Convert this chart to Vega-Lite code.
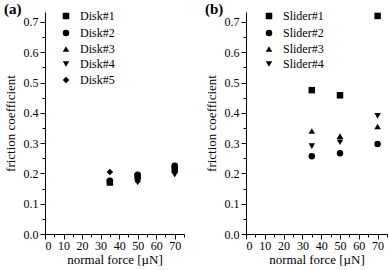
{
  "$schema": "https://vega.github.io/schema/vega-lite/v6.json",
  "padding": {"left": 4, "top": 2, "right": 0, "bottom": 0},
  "background": "white",
  "config": {
    "font": "Liberation Serif",
    "view": {"stroke": null},
    "axis": {"domainColor": "black", "tickColor": "black", "labelColor": "black", "titleColor": "black", "labelFont": "Liberation Serif", "titleFont": "Liberation Serif", "labelFontSize": 12, "titleFontSize": 13, "titleFontWeight": "normal", "grid": false},
    "legend": {"labelFont": "Liberation Serif", "labelFontSize": 12, "labelColor": "black"},
    "title": {"font": "Liberation Serif", "fontSize": 15, "fontWeight": "bold", "color": "black"}
  },
  "datasets": {
    "disk": [
      {"force": 35, "mu": 0.170, "sample": "Disk#1"},
      {"force": 35, "mu": 0.176, "sample": "Disk#2"},
      {"force": 35, "mu": 0.178, "sample": "Disk#3"},
      {"force": 35, "mu": 0.168, "sample": "Disk#4"},
      {"force": 35, "mu": 0.205, "sample": "Disk#5"},
      {"force": 50, "mu": 0.190, "sample": "Disk#1"},
      {"force": 50, "mu": 0.196, "sample": "Disk#2"},
      {"force": 50, "mu": 0.180, "sample": "Disk#3"},
      {"force": 50, "mu": 0.170, "sample": "Disk#4"},
      {"force": 50, "mu": 0.185, "sample": "Disk#5"},
      {"force": 70, "mu": 0.215, "sample": "Disk#1"},
      {"force": 70, "mu": 0.225, "sample": "Disk#2"},
      {"force": 70, "mu": 0.210, "sample": "Disk#3"},
      {"force": 70, "mu": 0.196, "sample": "Disk#4"},
      {"force": 70, "mu": 0.205, "sample": "Disk#5"}
    ],
    "slider": [
      {"force": 35, "mu": 0.475, "sample": "Slider#1"},
      {"force": 35, "mu": 0.257, "sample": "Slider#2"},
      {"force": 35, "mu": 0.340, "sample": "Slider#3"},
      {"force": 35, "mu": 0.290, "sample": "Slider#4"},
      {"force": 50, "mu": 0.458, "sample": "Slider#1"},
      {"force": 50, "mu": 0.267, "sample": "Slider#2"},
      {"force": 50, "mu": 0.323, "sample": "Slider#3"},
      {"force": 50, "mu": 0.303, "sample": "Slider#4"},
      {"force": 70, "mu": 0.720, "sample": "Slider#1"},
      {"force": 70, "mu": 0.297, "sample": "Slider#2"},
      {"force": 70, "mu": 0.355, "sample": "Slider#3"},
      {"force": 70, "mu": 0.390, "sample": "Slider#4"}
    ]
  },
  "spacing": 20,
  "resolve": {"scale": {"shape": "independent"}, "legend": {"shape": "independent"}},
  "hconcat": [
    {
      "title": {"text": "(a)", "anchor": "start", "frame": "bounds", "offset": -7},
      "width": 139,
      "height": 222,
      "data": {"name": "disk"},
      "mark": {"type": "point", "filled": true, "color": "black", "size": 42, "opacity": 1},
      "encoding": {
        "x": {"field": "force", "type": "quantitative", "scale": {"domain": [0, 75], "nice": false},
          "axis": {"title": "normal force [µN]", "values": [0,5,10,15,20,25,30,35,40,45,50,55,60,65,70,75], "labelExpr": "datum.value % 10 === 0 ? datum.label : ''", "tickSize": {"condition": {"test": "datum.value % 10 === 0", "value": 5}, "value": 3}, "labelPadding": 1, "titlePadding": 2}},
        "y": {"field": "mu", "type": "quantitative", "scale": {"domain": [0, 0.733], "nice": false},
          "axis": {"title": "friction coefficient", "values": [0,0.05,0.1,0.15,0.2,0.25,0.3,0.35,0.4,0.45,0.5,0.55,0.6,0.65,0.7], "format": ".1f", "labelExpr": "round(datum.value*100) % 10 === 0 ? datum.label : ''", "tickSize": {"condition": {"test": "round(datum.value*100) % 10 === 0", "value": 5}, "value": 3}, "labelPadding": 2, "titlePadding": 6}},
        "shape": {"field": "sample", "type": "nominal",
          "scale": {"domain": ["Disk#1","Disk#2","Disk#3","Disk#4","Disk#5"], "range": ["square","circle","triangle-up","triangle-down","diamond"]},
          "legend": {"title": null, "orient": "none", "legendX": 15, "legendY": -2, "rowPadding": 3, "symbolFillColor": "black", "symbolStrokeColor": "black", "symbolSize": 42, "labelOffset": 8}}
      }
    },
    {
      "title": {"text": "(b)", "anchor": "start", "frame": "bounds", "offset": -7},
      "width": 141,
      "height": 222,
      "data": {"name": "slider"},
      "mark": {"type": "point", "filled": true, "color": "black", "size": 42, "opacity": 1},
      "encoding": {
        "x": {"field": "force", "type": "quantitative", "scale": {"domain": [0, 75], "nice": false},
          "axis": {"title": "normal force [µN]", "values": [0,5,10,15,20,25,30,35,40,45,50,55,60,65,70,75], "labelExpr": "datum.value % 10 === 0 ? datum.label : ''", "tickSize": {"condition": {"test": "datum.value % 10 === 0", "value": 5}, "value": 3}, "labelPadding": 1, "titlePadding": 2}},
        "y": {"field": "mu", "type": "quantitative", "scale": {"domain": [0, 0.733], "nice": false},
          "axis": {"title": "friction coefficient", "values": [0,0.05,0.1,0.15,0.2,0.25,0.3,0.35,0.4,0.45,0.5,0.55,0.6,0.65,0.7], "format": ".1f", "labelExpr": "round(datum.value*100) % 10 === 0 ? datum.label : ''", "tickSize": {"condition": {"test": "round(datum.value*100) % 10 === 0", "value": 5}, "value": 3}, "labelPadding": 2, "titlePadding": 6}},
        "shape": {"field": "sample", "type": "nominal",
          "scale": {"domain": ["Slider#1","Slider#2","Slider#3","Slider#4"], "range": ["square","circle","triangle-up","triangle-down"]},
          "legend": {"title": null, "orient": "none", "legendX": 17, "legendY": -2, "rowPadding": 3, "symbolFillColor": "black", "symbolStrokeColor": "black", "symbolSize": 42, "labelOffset": 8}}
      }
    }
  ]
}
